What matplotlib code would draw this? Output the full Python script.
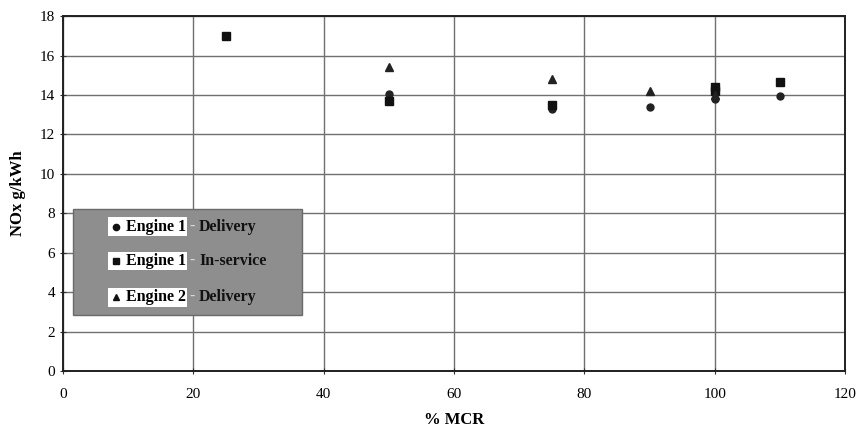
import matplotlib
matplotlib.use("Agg")
import matplotlib.pyplot as plt
from matplotlib.patches import Rectangle

plt.rcParams['font.family'] = ['Liberation Serif', 'DejaVu Serif']

# NOx emissions versus load (% MCR)
e1_del_x = [50, 75, 90, 100, 110]
e1_del_y = [14.05, 13.3, 13.4, 13.8, 13.95]

e1_svc_x = [25, 50, 75, 100, 100, 110]
e1_svc_y = [17.0, 13.7, 13.5, 14.2, 14.4, 14.65]

e2_del_x = [50, 75, 90, 100]
e2_del_y = [15.4, 14.8, 14.2, 14.0]

series_names = [("Engine 1", "Delivery"), ("Engine 1", "In-service"), ("Engine 2", "Delivery")]
x_ticks = [0, 20, 40, 60, 80, 100, 120]
y_ticks = [0, 2, 4, 6, 8, 10, 12, 14, 16, 18]

fig = plt.figure(figsize=(8.58, 4.34), dpi=100)
ax = fig.add_axes([0.0734, 0.145, 0.9116, 0.818])

ax.set_xlim(0, 120)
ax.set_ylim(0, 18)
ax.set_xticks(x_ticks)
ax.set_yticks(y_ticks)
ax.grid(True, color='#707070', linewidth=1.0)
ax.set_axisbelow(True)
for s in ax.spines.values():
    s.set_color('#202020')
    s.set_linewidth(1.4)
ax.tick_params(axis='both', labelsize=11, color='#303030', length=4, direction='inout')
ax.tick_params(axis='x', pad=10)

ax.plot(e1_del_x, e1_del_y, 'o', color='#222222', markersize=5, linestyle='none', zorder=3)
ax.plot(e1_svc_x, e1_svc_y, 's', color='#111111', markersize=5.5, linestyle='none', zorder=3)
ax.plot(e2_del_x, e2_del_y, '^', color='#222222', markersize=5.5, linestyle='none', zorder=3)

ax.set_xlabel('% MCR', fontsize=12, fontweight='bold', labelpad=8)
ax.set_ylabel('NOx g/kWh', fontsize=12, fontweight='bold', labelpad=10)

# Key panel
ax.add_patch(Rectangle((0.0128, 0.158), 0.293, 0.298, transform=ax.transAxes,
                       facecolor='#8e8e8e', edgecolor='#6a6a6a', linewidth=1, zorder=4))
markers = ['o', 's', '^']
rows_y = [0.406, 0.310, 0.208]
for (eng, kind), m, yy in zip(series_names, markers, rows_y):
    ax.text(0.060, yy, '    ' + eng, transform=ax.transAxes, fontsize=11.5, fontweight='bold',
            va='center', ha='left', zorder=5,
            bbox=dict(facecolor='white', edgecolor='none', pad=1.0))
    ax.plot([0.068], [yy], marker=m, color='#111111', markersize=4.5,
            transform=ax.transAxes, zorder=6, clip_on=False)
    ax.text(0.161, yy, '-', transform=ax.transAxes, fontsize=11.5, fontweight='bold',
            va='center', ha='left', zorder=6, color='#dcdcdc')
    ax.text(0.174, yy, kind, transform=ax.transAxes, fontsize=11.5, fontweight='bold',
            va='center', ha='left', zorder=6, color='#111111')

fig.savefig('out.png', dpi=100, facecolor='white')
